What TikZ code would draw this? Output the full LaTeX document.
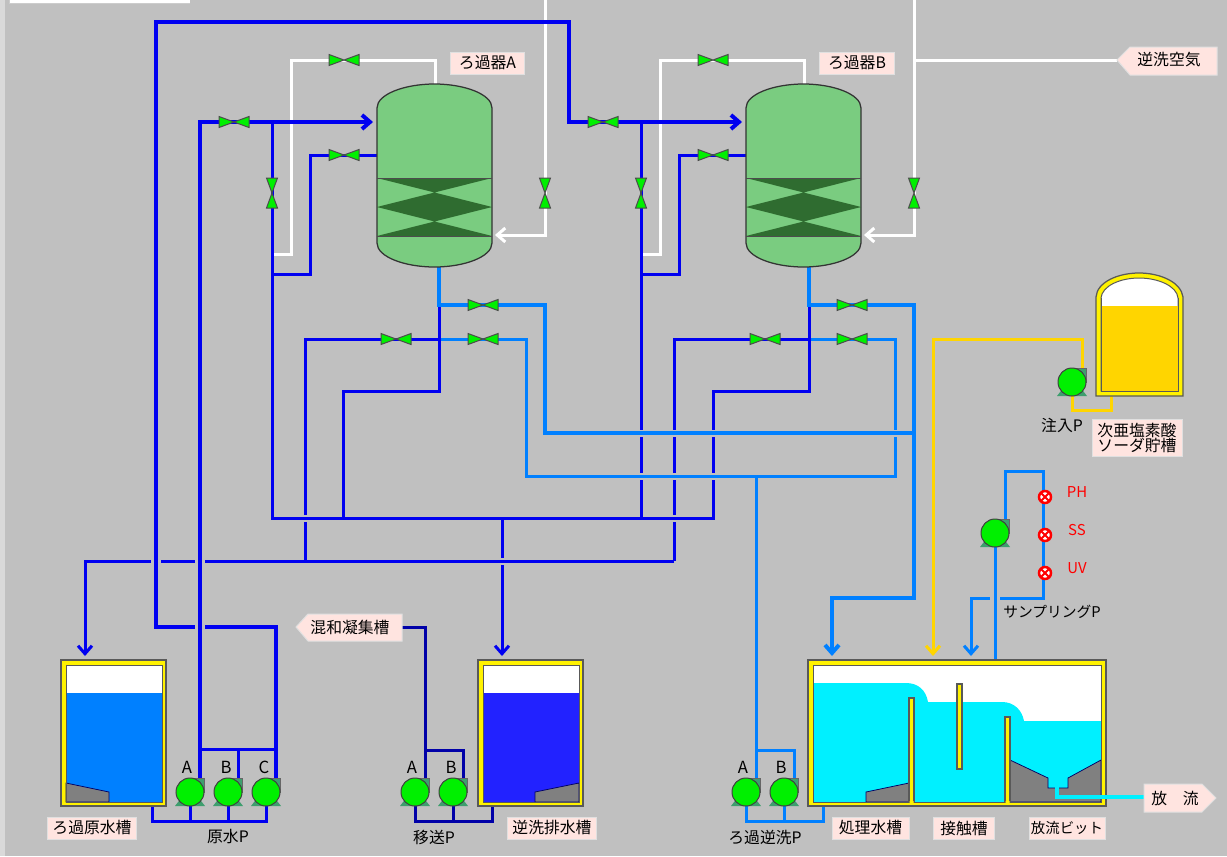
\documentclass[tikz,border=0pt]{standalone}
\usepackage{fontspec}
\setmainfont{Noto Sans CJK JP}
\usetikzlibrary{arrows.meta}
\definecolor{panelgray}{HTML}{C0C0C0}
\definecolor{rawblue}{HTML}{0000F0}
\definecolor{lightpipe}{HTML}{0080FF}
\definecolor{navypipe}{HTML}{0000A8}
\definecolor{drainblue}{HTML}{2222FF}
\definecolor{cleanwater}{HTML}{00F0FF}
\definecolor{dosegold}{HTML}{FFD500}
\definecolor{filtergreen}{HTML}{7ACC80}
\definecolor{mediagreen}{HTML}{2F6C30}
\definecolor{valvegreen}{HTML}{00F000}
\definecolor{pumpgreen}{HTML}{3E9E6E}
\definecolor{tagpink}{HTML}{FFE4E0}
\tikzset{
    pipe/.style={line width=0.06cm},
    thickpipe/.style={line width=0.08cm},
    rawpipe/.style={pipe, rawblue},
    rawmain/.style={thickpipe, rawblue},
    washpipe/.style={pipe, lightpipe},
    washmain/.style={thickpipe, lightpipe},
    navyline/.style={pipe, navypipe},
    airpipe/.style={pipe, white},
    dosepipe/.style={pipe, dosegold},
    outpipe/.style={thickpipe, cleanwater},
    halo/.style={line width=0.14cm, panelgray},
    widehalo/.style={line width=0.2cm, panelgray},
    barb/.tip={Straight Barb[length=1.6mm, width=2.8mm]},
    valvebody/.style={draw=black!70, fill=valvegreen, line width=0.02cm},
    tankwall/.style={draw=black!65, fill=yellow, line width=0.025cm},
    sludge/.style={draw=black!60!blue, fill=black!50, line width=0.015cm},
    filterbody/.style={draw=black!80, fill=filtergreen, line width=0.025cm},
    tag/.style={draw=black!12, fill=tagpink, inner sep=0pt, line width=0.02cm,
        minimum height=0.44cm, font=\fontsize{9}{9}\selectfont},
    plate/.style={draw=black!12, fill=tagpink, line width=0.02cm},
    caption/.style={inner sep=0pt, font=\fontsize{9}{9}\selectfont},
    meter/.style={inner sep=0pt, red, font=\fontsize{8.5}{9}\selectfont},
    letter/.style={inner sep=0pt, font=\fontsize{9.5}{10}\selectfont},
}
\newcommand{\valveh}[1]{\draw[valvebody, shift={(#1)}] (-15,-5.5) -- (15,5.5) -- (15,-5.5) -- (-15,5.5) -- cycle;}
\newcommand{\valvev}[1]{\draw[valvebody, shift={(#1)}] (-5.5,-15) -- (5.5,15) -- (-5.5,15) -- (5.5,-15) -- cycle;}
\newcommand{\pump}[1]{%
    \begin{scope}[shift={(#1)}]
        \fill[pumpgreen] (-15,14) -- (-8,5) -- (8,5) -- (15,14) -- cycle;
        \draw[draw=black!60, fill=pumpgreen, line width=0.015cm] (0,-14) rectangle (14,0);
        \draw[draw=black!75, fill=valvegreen, line width=0.02cm] (0,0) circle (14);
    \end{scope}}
\newcommand{\sensor}[1]{%
    \begin{scope}[shift={(#1)}]
        \draw[draw=red, fill=white, line width=0.05cm] (0,0) circle (6);
        \draw[red, line width=0.04cm] (-4,-4) -- (4,4) (-4,4) -- (4,-4);
    \end{scope}}
\begin{document}
\begin{tikzpicture}[x=0.02cm, y=-0.02cm]
    \useasboundingbox (0,0) rectangle (1227,856);
    % Panel
    \fill[panelgray] (0,0) rectangle (1227,856);
    \fill[black!15] (0,0) rectangle (5,856);
    \fill[black!20] (9,0) rectangle (190,3.5);
    \fill[white] (9.5,0) rectangle (189.5,2.5);
    % Pump and valve positions
    \coordinate (pumpRawA) at (190,792);
    \coordinate (pumpRawB) at (228,792);
    \coordinate (pumpRawC) at (266,792);
    \coordinate (pumpMoveA) at (415,792);
    \coordinate (pumpMoveB) at (453,792);
    \coordinate (pumpWashA) at (746,792);
    \coordinate (pumpWashB) at (784,792);
    \coordinate (pumpDose) at (1072,382);
    \coordinate (pumpSample) at (995,533);
    \coordinate (valveAirA) at (344,60);
    \coordinate (valveAirB) at (713,60);
    \coordinate (valveFeedA) at (234,122);
    \coordinate (valveFeedB) at (603,122);
    \coordinate (valveBackA) at (344,155);
    \coordinate (valveBackB) at (713,155);
    \coordinate (valveLinkA) at (272,193);
    \coordinate (valveLinkB) at (641,193);
    \coordinate (valveBlowA) at (545,193);
    \coordinate (valveBlowB) at (914,193);
    \coordinate (valveOutA) at (483,305);
    \coordinate (valveOutB) at (852,305);
    \coordinate (valveWasteA) at (396,339);
    \coordinate (valveWasteB) at (765,339);
    \coordinate (valveWashA) at (483,339);
    \coordinate (valveWashB) at (852,339);
    \coordinate (airTip) at (1117,60);
    \coordinate (mixTip) at (402,627);
    \coordinate (outTag) at (1144,797);
    % Air lines
    \draw[airpipe] (435,84) -- (435,60) -- (valveAirA) -- (291,60) -- (291,254) -- (272,254);
    \draw[airpipe] (804,84) -- (804,60) -- (valveAirB) -- (660,60) -- (660,254) -- (641,254);
    \draw[airpipe] (545,0) -- (valveBlowA);
    \draw[airpipe] (914,0) -- (valveBlowB);
    \draw[airpipe, -barb] (valveBlowA) -- (545,235) -- (495,235);
    \draw[airpipe, -barb] (valveBlowB) -- (914,235) -- (864,235);
    \draw[airpipe] (914,60) -- (airTip);
    % Backwash waste verticals
    \draw[rawpipe] (305,561) -- (305,339) -- (valveWasteA) -- (439,339);
    \draw[rawpipe] (674,561) -- (674,339) -- (valveWasteB) -- (809,339);
    \draw[rawpipe, -barb] (502,518) -- (502,656);
    \draw[halo] (298,518) -- (312,518) (667,518) -- (681,518) (495,561) -- (509,561);
    % Collector lines
    \draw[rawpipe] (272,122) -- (272,518) -- (713,518) -- (713,391) -- (809,391) -- (809,305);
    \draw[rawpipe] (343,518) -- (343,391) -- (439,391) -- (439,305);
    \draw[rawpipe] (641,122) -- (641,518);
    \draw[rawpipe, -barb] (674,561) -- (85,561) -- (85,656);
    \draw[rawpipe] (272,274) -- (310,274) -- (310,155) -- (valveBackA) -- (377,155);
    \draw[rawpipe] (641,274) -- (679,274) -- (679,155) -- (valveBackB) -- (746,155);
    % Raw water mains
    \draw[widehalo] (156,550) -- (156,572);
    \draw[rawmain, -barb] (276,778) -- (276,627) -- (156,627) -- (156,22) -- (569,22) -- (569,122) -- (valveFeedB) -- (742,122);
    \draw[widehalo] (200,550) -- (200,572) (200,616) -- (200,638);
    \draw[rawmain, -barb] (200,778) -- (200,122) -- (valveFeedA) -- (373,122);
    \draw[rawpipe] (238,778) -- (238,749);
    \draw[rawpipe] (200,749) -- (276,749);
    \draw[rawpipe] (pumpRawA) -- (190,821) (pumpRawB) -- (228,821);
    \draw[rawpipe] (pumpRawC) -- (266,821) -- (152,821) -- (152,806);
    % Transfer line
    \draw[navyline] (mixTip) -- (425,627) -- (425,778);
    \draw[navyline] (425,750) -- (463,750) -- (463,778);
    \draw[navyline] (pumpMoveA) -- (415,821) -- (492,821) -- (492,806);
    \draw[navyline] (pumpMoveB) -- (453,821);
    % Wash water lines
    \draw[halo] (634,476) -- (648,476) (667,476) -- (681,476) (706,476) -- (720,476);
    \draw[washpipe] (441,339) -- (valveWashA) -- (526,339) -- (526,476) -- (895,476) -- (895,339) -- (valveWashB) -- (811,339);
    \draw[halo] (634,433) -- (648,433) (667,433) -- (681,433) (706,433) -- (720,433) (888,433) -- (902,433);
    \draw[washmain] (439,267) -- (439,305) -- (valveOutA) -- (545,305) -- (545,433) -- (914,433);
    \draw[washmain, -barb] (809,267) -- (809,305) -- (valveOutB) -- (914,305) -- (914,598) -- (832,598) -- (832,656);
    \draw[washpipe] (756,476) -- (756,778);
    \draw[washpipe] (756,750) -- (794,750) -- (794,778);
    \draw[washpipe] (pumpWashA) -- (746,821) -- (823,821) -- (823,806);
    \draw[washpipe] (pumpWashB) -- (784,821);
    % Sampling line
    \draw[washpipe, -barb] (1005,519) -- (1005,471) -- (1043,471) -- (1043,598) -- (971,598) -- (971,656);
    \draw[widehalo] (995,590) -- (995,606);
    \draw[washpipe] (pumpSample) -- (995,660);
    % Dosing line
    \draw[dosepipe, -barb] (1082,372) -- (1082,339) -- (933,339) -- (933,656);
    \draw[dosepipe] (pumpDose) -- (1072,410) -- (1111,410) -- (1111,396);
    % Filter A
    \draw[filterbody] (377,108) .. controls (377,94) and (405,84) .. (434.5,84) .. controls (464,84) and (492,94) .. (492,108) -- (492,243) .. controls (492,257) and (464,267) .. (434.5,267) .. controls (405,267) and (377,257) .. (377,243) -- cycle;
    \fill[mediagreen] (377,178) -- (492,178) -- (377,207) -- (492,207) -- cycle;
    \fill[mediagreen] (377,207) -- (492,207) -- (377,236) -- (492,236) -- cycle;
    \draw[black!70, line width=0.02cm] (377,178) -- (492,178) (377,236) -- (492,236);
    \node[tag, minimum width=1.5cm] (tagFilterA) at (487.5,63) {ろ過器A};
    % Filter B
    \draw[filterbody] (746,108) .. controls (746,94) and (774,84) .. (803.5,84) .. controls (833,84) and (861,94) .. (861,108) -- (861,243) .. controls (861,257) and (833,267) .. (803.5,267) .. controls (774,267) and (746,257) .. (746,243) -- cycle;
    \fill[mediagreen] (746,178) -- (861,178) -- (746,207) -- (861,207) -- cycle;
    \fill[mediagreen] (746,207) -- (861,207) -- (746,236) -- (861,236) -- cycle;
    \draw[black!70, line width=0.02cm] (746,178) -- (861,178) (746,236) -- (861,236);
    \node[tag, minimum width=1.5cm] (tagFilterB) at (857,63) {ろ過器B};
    % Valves
    \valveh{valveAirA} \valveh{valveAirB}
    \valveh{valveFeedA} \valveh{valveFeedB}
    \valveh{valveBackA} \valveh{valveBackB}
    \valvev{valveLinkA} \valvev{valveLinkB}
    \valvev{valveBlowA} \valvev{valveBlowB}
    \valveh{valveOutA} \valveh{valveOutB}
    \valveh{valveWasteA} \valveh{valveWasteB}
    \valveh{valveWashA} \valveh{valveWashB}
    % Raw water tank
    \draw[tankwall] (61,660) rectangle (166,806);
    \fill[white] (66,665) rectangle (162,693);
    \fill[lightpipe] (66,693) rectangle (162,802);
    \draw[sludge] (66,783) -- (109,792) -- (109,802) -- (66,802) -- cycle;
    \draw[black!65, line width=0.02cm] (66,665) rectangle (162,802);
    % Backwash drain tank
    \draw[tankwall] (478,660) rectangle (583,806);
    \fill[white] (483,665) rectangle (579,693);
    \fill[drainblue] (483,693) rectangle (579,802);
    \draw[sludge] (535,792) -- (579,783) -- (579,802) -- (535,802) -- cycle;
    \draw[black!65, line width=0.02cm] (483,665) rectangle (579,802);
    % Treated water tank
    \draw[tankwall] (808,660) rectangle (1106,806);
    \fill[white] (813,665) rectangle (1101,802);
    \fill[cleanwater] (813,683) -- (906,683) .. controls (918,683) and (926,690) .. (928,702) -- (1002,702) .. controls (1014,702) and (1022,710) .. (1024,721) -- (1101,721) -- (1101,802) -- (813,802) -- cycle;
    \draw[sludge] (866,792) -- (909,783) -- (909,802) -- (866,802) -- cycle;
    \draw[sludge] (1010,760) -- (1048,778) -- (1048,788) -- (1068,788) -- (1068,778) -- (1101,760) -- (1101,802) -- (1010,802) -- cycle;
    \draw[black!65, line width=0.02cm] (813,665) rectangle (1101,802);
    \draw[tankwall] (909,698) rectangle (914,802);
    \draw[tankwall] (957,684) rectangle (962,769);
    \draw[tankwall] (1005,717) rectangle (1010,802);
    \fill[yellow] (909.5,801) rectangle (913.5,804) (1005.5,801) rectangle (1009.5,804);
    % Outfall line
    \draw[outpipe] (1057,787) -- (1057,797) -- (outTag);
    % Hypochlorite tank
    \draw[tankwall] (1096,396) -- (1096,297) .. controls (1097,282) and (1118,273) .. (1139,273) .. controls (1160,273) and (1181,282) .. (1183,297) -- (1183,396) -- cycle;
    \draw[draw=black!65, fill=white, line width=0.02cm] (1101,391) -- (1101,298) .. controls (1102,286) and (1120,278) .. (1139,278) .. controls (1158,278) and (1177,286) .. (1178,298) -- (1178,391) -- cycle;
    \fill[dosegold] (1101,306) rectangle (1178,391);
    \draw[black!65, line width=0.02cm] (1101,298) -- (1101,391) -- (1178,391) -- (1178,298);
    % Pumps
    \pump{pumpRawA} \pump{pumpRawB} \pump{pumpRawC}
    \pump{pumpMoveA} \pump{pumpMoveB}
    \pump{pumpWashA} \pump{pumpWashB}
    \pump{pumpDose} \pump{pumpSample}
    % Analysers
    \sensor{1045,497} \sensor{1045,535} \sensor{1045,573}
    \node[meter] (labelPH) at (1077,492) {PH};
    \node[meter] (labelSS) at (1077,530) {SS};
    \node[meter] (labelUV) at (1077,568) {UV};
    % Pump letters
    \node[letter] (letterRawA) at (187,767) {A};
    \node[letter] (letterRawB) at (226,767) {B};
    \node[letter] (letterRawC) at (264,767) {C};
    \node[letter] (letterMoveA) at (412,767) {A};
    \node[letter] (letterMoveB) at (451,767) {B};
    \node[letter] (letterWashA) at (743,767) {A};
    \node[letter] (letterWashB) at (781,767) {B};
    % Pump captions
    \node[caption] (capRaw) at (228,837) {原水P};
    \node[caption] (capMove) at (434,837) {移送P};
    \node[caption] (capWash) at (765,837) {ろ過逆洗P};
    \node[caption] (capDose) at (1062,425) {注入P};
    \node[caption, font=\fontsize{8.4}{8.4}\selectfont] (capSample) at (1052,612) {サンプリングP};
    % Tank tags
    \node[tag, minimum width=1.8cm] (tagRaw) at (92,828) {ろ過原水槽};
    \node[tag, minimum width=1.8cm] (tagDrain) at (552,828) {逆洗排水槽};
    \node[tag, minimum width=1.54cm] (tagTreated) at (870.5,828) {処理水槽};
    \node[tag, minimum width=1.22cm] (tagContact) at (964,828) {接触槽};
    \node[tag, minimum width=1.52cm, font=\fontsize{8.2}{8.2}\selectfont] (tagPit) at (1067,828) {放流ビット};
    \node[tag, minimum width=1.8cm, minimum height=0.74cm, align=center, font=\fontsize{9}{8.6}\selectfont] (tagHypo) at (1137,438) {次亜塩素酸\\ソーダ貯槽};
    % Pointer tags
    \draw[plate] (296,627) -- (308,614) -- (402,614) -- (402,641) -- (308,641) -- cycle;
    \node[caption] (tagMix) at (350,627) {混和凝集槽};
    \draw[plate] (1117,60) -- (1130,47) -- (1217,47) -- (1217,75) -- (1130,75) -- cycle;
    \node[caption] (tagAir) at (1169,60) {逆洗空気};
    \draw[plate] (1144,784) -- (1202,784) -- (1216,798) -- (1202,812) -- (1144,812) -- cycle;
    \node[caption] (tagOut) at (1175,798) {放　流};
\end{tikzpicture}
\end{document}
